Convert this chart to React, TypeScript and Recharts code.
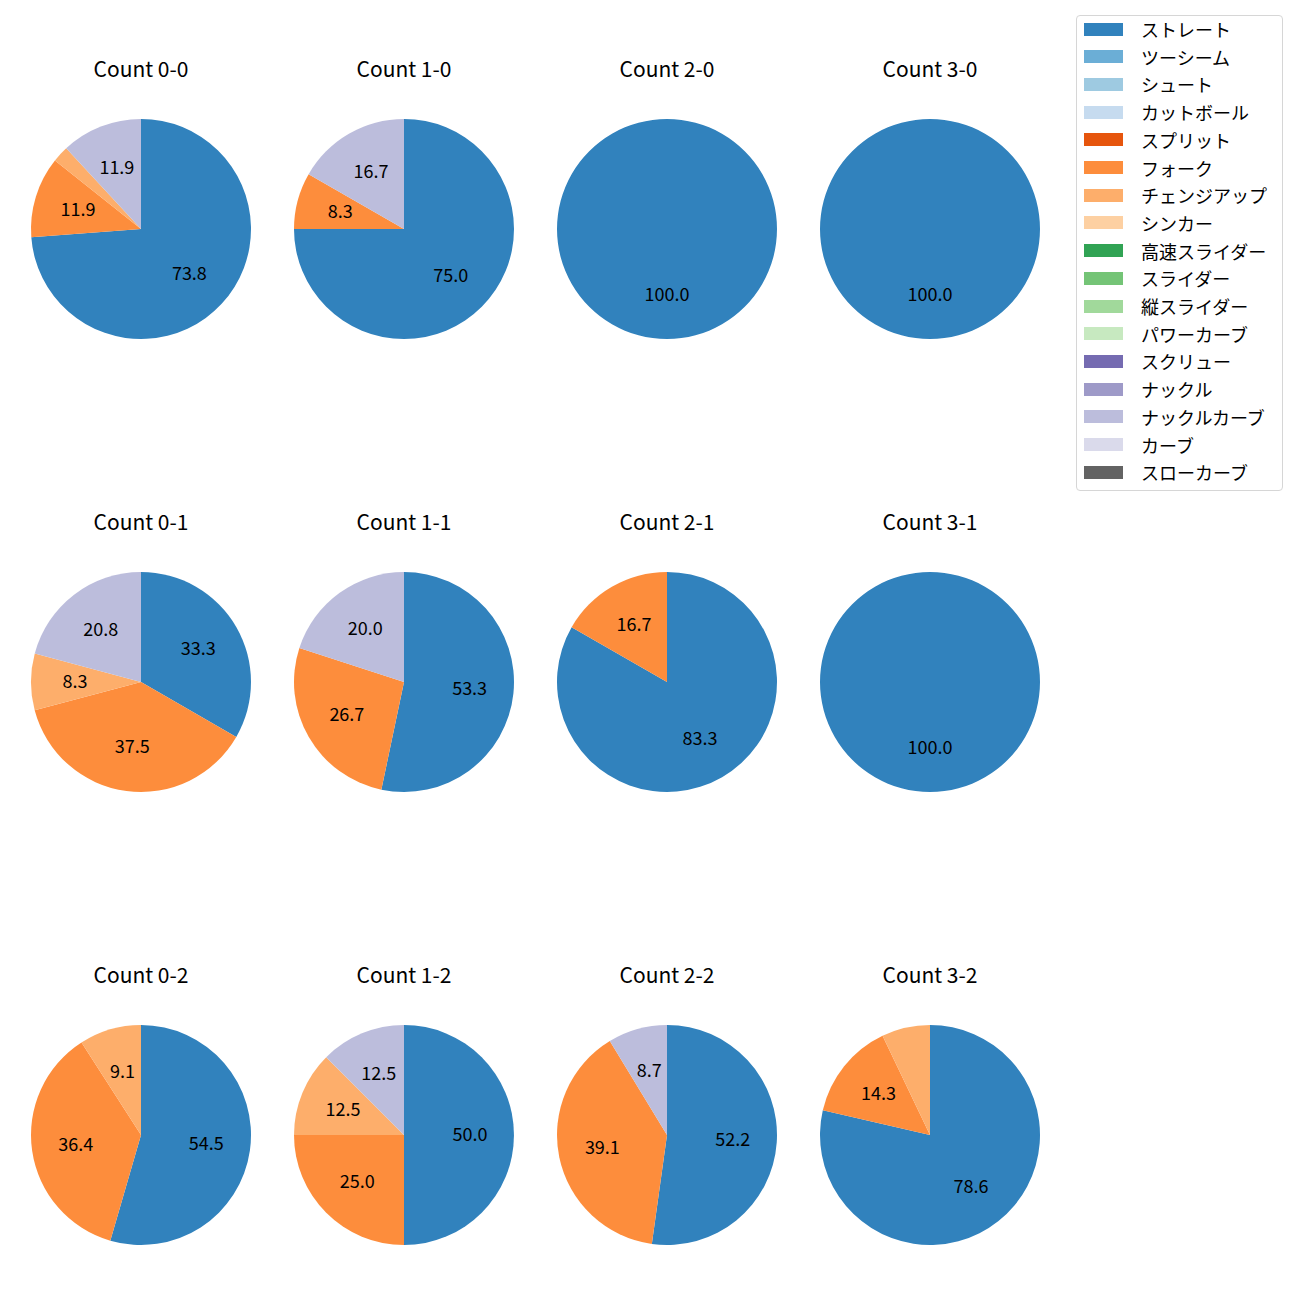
import React from 'react';
import { PieChart, Pie, Cell } from 'recharts';

// pitch types and tab20c colours, in legend order
const pitchTypes = [
  'ストレート', 'ツーシーム', 'シュート', 'カットボール',
  'スプリット', 'フォーク', 'チェンジアップ', 'シンカー',
  '高速スライダー', 'スライダー', '縦スライダー', 'パワーカーブ',
  'スクリュー', 'ナックル', 'ナックルカーブ', 'カーブ', 'スローカーブ',
];
const pitchColors = [
  '#3182bd', '#6baed6', '#9ecae1', '#c6dbef',
  '#e6550d', '#fd8d3c', '#fdae6b', '#fdd0a2',
  '#31a354', '#74c476', '#a1d99b', '#c7e9c0',
  '#756bb1', '#9e9ac8', '#bcbddc', '#dadaeb', '#636363',
];

const counts = [
  '0-0', '1-0', '2-0', '3-0',
  '0-1', '1-1', '2-1', '3-1',
  '0-2', '1-2', '2-2', '3-2',
];

// share (%) per count: [pitch type, value]
const count00: [string, number][] = [['ストレート', 73.8], ['フォーク', 11.9], ['チェンジアップ', 2.4], ['ナックルカーブ', 11.9]];
const count10: [string, number][] = [['ストレート', 75.0], ['フォーク', 8.3], ['ナックルカーブ', 16.7]];
const count20: [string, number][] = [['ストレート', 100.0]];
const count30: [string, number][] = [['ストレート', 100.0]];
const count01: [string, number][] = [['ストレート', 33.3], ['フォーク', 37.5], ['チェンジアップ', 8.3], ['ナックルカーブ', 20.8]];
const count11: [string, number][] = [['ストレート', 53.3], ['フォーク', 26.7], ['ナックルカーブ', 20.0]];
const count21: [string, number][] = [['ストレート', 83.3], ['フォーク', 16.7]];
const count31: [string, number][] = [['ストレート', 100.0]];
const count02: [string, number][] = [['ストレート', 54.5], ['フォーク', 36.4], ['チェンジアップ', 9.1]];
const count12: [string, number][] = [['ストレート', 50.0], ['フォーク', 25.0], ['チェンジアップ', 12.5], ['ナックルカーブ', 12.5]];
const count22: [string, number][] = [['ストレート', 52.2], ['フォーク', 39.1], ['ナックルカーブ', 8.7]];
const count32: [string, number][] = [['ストレート', 78.6], ['フォーク', 14.3], ['チェンジアップ', 7.1]];

const countData = [
  count00, count10, count20, count30,
  count01, count11, count21, count31,
  count02, count12, count22, count32,
];

const MIN_LABEL = 8;
const FONT = '"Noto Sans CJK JP", "Noto Sans", sans-serif';
const RAD = Math.PI / 180;

const colX = [141, 404, 667, 930];
const rowY = [229, 682, 1135];
const R = 110;
const BOX = 240;

const renderLabel = (props: any) => {
  const { cx, cy, midAngle, outerRadius, value } = props;
  if (value < MIN_LABEL) return null;
  const r = outerRadius * 0.6;
  const x = cx + r * Math.cos(-midAngle * RAD);
  const y = cy + r * Math.sin(-midAngle * RAD) - 2;
  return (
    <text x={x} y={y} textAnchor="middle" dominantBaseline="central"
      fontSize={18} fontFamily={FONT} fill="#000">
      {value.toFixed(1)}
    </text>
  );
};

const CountPie = ({ idx }: { idx: number }) => {
  const cx = colX[idx % 4];
  const cy = rowY[Math.floor(idx / 4)];
  const data = countData[idx].map(([name, value]) => ({ name, value }));
  return (
    <>
      <div style={{
        position: 'absolute', left: cx - 100, width: 200, top: cy - 173,
        textAlign: 'center', fontSize: 21, fontFamily: FONT, lineHeight: '24px',
      }}>
        Count {counts[idx]}
      </div>
      <div style={{ position: 'absolute', left: cx - BOX / 2, top: cy - BOX / 2 }}>
        <PieChart width={BOX} height={BOX} margin={{ top: 0, right: 0, bottom: 0, left: 0 }}>
          <Pie data={data} dataKey="value" nameKey="name" cx={BOX / 2} cy={BOX / 2}
            outerRadius={R} startAngle={90} endAngle={-270} stroke="none"
            label={renderLabel} labelLine={false} isAnimationActive={false}>
            {data.map((d) => (
              <Cell key={d.name} fill={pitchColors[pitchTypes.indexOf(d.name)]} />
            ))}
          </Pie>
        </PieChart>
      </div>
    </>
  );
};

const App = () => (
  <div style={{ position: 'absolute', left: 0, top: 0, width: 1300, height: 1300, background: '#fff' }}>
    {counts.map((c, i) => <CountPie key={c} idx={i} />)}
    <div style={{
      position: 'absolute', left: 1076, top: 15, width: 207, height: 476,
      border: '1px solid #d6d6d6', borderRadius: 4, boxSizing: 'border-box',
      fontFamily: FONT, fontSize: 18,
    }}>
      {pitchTypes.map((p, i) => (
        <div key={p} style={{ position: 'absolute', left: 7, top: 3 + i * 27.7, height: 20, display: 'flex', alignItems: 'center' }}>
          <span style={{ display: 'inline-block', width: 39, height: 13, background: pitchColors[i] }} />
          <span style={{ marginLeft: 18, lineHeight: '20px', whiteSpace: 'nowrap' }}>{p}</span>
        </div>
      ))}
    </div>
  </div>
);

export default App;
